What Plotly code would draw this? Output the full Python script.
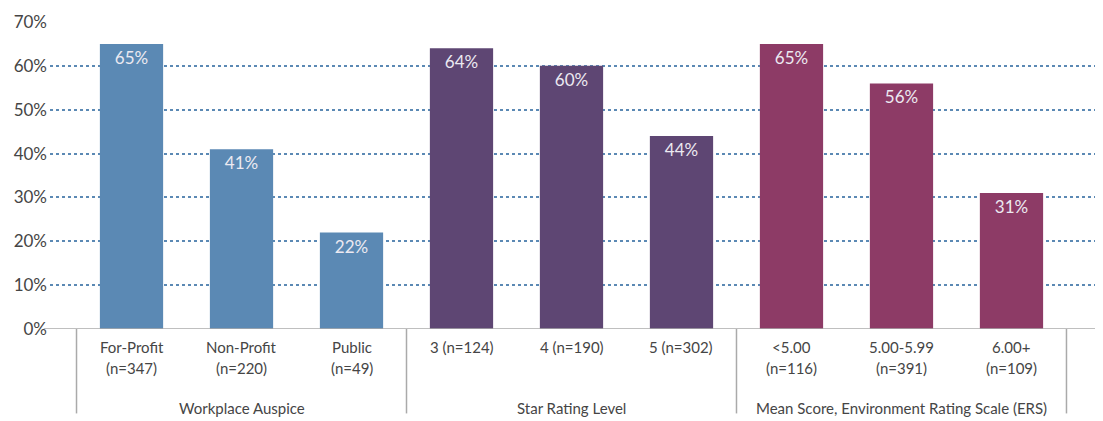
import plotly.graph_objects as go

# Data
line1 = ["For-Profit", "Non-Profit", "Public",
         "3 (n=124)", "4 (n=190)", "5 (n=302)",
         "<5.00", "5.00-5.99", "6.00+"]
line2 = ["(n=347)", "(n=220)", "(n=49)",
         "", "", "",
         "(n=116)", "(n=391)", "(n=109)"]
values = [65, 41, 22, 64, 60, 44, 65, 56, 31]
groups = ["Workplace Auspice", "Star Rating Level",
          "Mean Score, Environment Rating Scale (ERS)"]
group_sizes = [3, 3, 3]
group_colors = ["#5B89B4", "#5E4673", "#8D3B66"]
y_ticks = [0, 10, 20, 30, 40, 50, 60, 70]

FONT = "Lato, 'Open Sans', sans-serif"
TEXT = "#454545"

xs = list(range(len(values)))
colors = []
for c, n in zip(group_colors, group_sizes):
    colors += [c] * n

fig = go.Figure()
fig.add_trace(go.Bar(
    x=xs, y=values,
    marker=dict(color=colors, line=dict(width=0)),
    width=0.575,
    text=[f"{v}%" for v in values],
    textposition="inside",
    insidetextanchor="end",
    textfont=dict(family=FONT, size=17, color="#ECE9F1"),
    cliponaxis=False,
    hoverinfo="skip",
))

# category labels under the bars
for x, a, b in zip(xs, line1, line2):
    fig.add_annotation(x=x, y=-0.0586, xref="x", yref="paper", text=a,
                       showarrow=False, yanchor="middle",
                       font=dict(family=FONT, size=15, color=TEXT))
    if b:
        fig.add_annotation(x=x, y=-0.127, xref="x", yref="paper", text=b,
                           showarrow=False, yanchor="middle",
                           font=dict(family=FONT, size=15, color=TEXT))

# group labels and divider lines
start = 0
fig.add_shape(type="line", xref="x", yref="paper", x0=-0.5, x1=-0.5,
              y0=0, y1=-0.275, line=dict(color="#AAAAAA", width=1.5))
for g, n in zip(groups, group_sizes):
    mid = start + (n - 1) / 2
    fig.add_annotation(x=mid, y=-0.257, xref="x", yref="paper", text=g,
                       showarrow=False, yanchor="middle",
                       font=dict(family=FONT, size=15, color=TEXT))
    end = start + n - 0.5
    fig.add_shape(type="line", xref="x", yref="paper", x0=end, x1=end,
                  y0=0, y1=-0.275, line=dict(color="#AAAAAA", width=1.5))
    start += n

# zero baseline
fig.add_shape(type="line", xref="paper", yref="y", x0=-0.006, x1=1,
              y0=0, y1=0, line=dict(color="#AAAAAA", width=1.5))

# page has an 8px body margin, so the figure is 8px smaller than the window
fig.update_layout(
    width=1095, height=413,
    margin=dict(l=42, r=0, t=14, b=92),
    paper_bgcolor="white", plot_bgcolor="white",
    showlegend=False,
)
fig.update_xaxes(range=[-0.741, 8.832], showticklabels=False,
                 showgrid=False, zeroline=False, showline=False)
fig.update_yaxes(range=[0, 70], tickvals=y_ticks,
                 ticktext=[f"{t}%" for t in y_ticks],
                 tickfont=dict(family=FONT, size=17, color=TEXT),
                 showgrid=True, gridcolor="#5B89B4", gridwidth=2,
                 griddash="dot", zeroline=False, showline=False,
                 ticks="", ticklabelstandoff=2)

fig.write_html("out.html")
